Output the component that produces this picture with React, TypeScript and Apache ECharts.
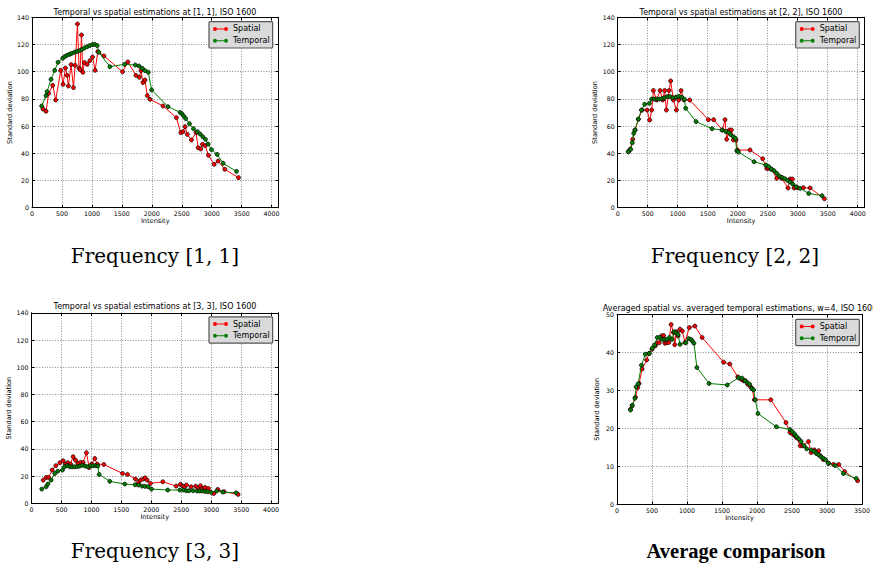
import React, { useEffect, useRef } from "react";
import * as echarts from "echarts";

// ---- data: [intensity, standard deviation] ----
const spatial11 = [[184,72.6],[234,70.9],[279,84.1],[346,90],[396,79.2],[480,101],[519,90.7],[558,102.7],[586,97.3],[608,89.5],[653,105.2],[692,88.3],[720,104.7],[759,135.1],[786,102.7],[803,101.5],[826,127],[848,99.6],[876,106.7],[921,105.4],[965,108.1],[1010,110.8],[1054,101],[1099,114.8],[1200,111.6],[1512,100],[1601,107.2],[1735,97.3],[1791,95.9],[1819,100.8],[1852,92],[1886,93.9],[1925,82.4],[1969,79.7],[2187,74.8],[2410,66.2],[2483,55.2],[2522,55.9],[2555,59.6],[2594,53.9],[2661,49.8],[2739,55.2],[2773,44.1],[2817,43.2],[2845,46.6],[2890,45.6],[2946,38.5],[3041,31.9],[3107,34.3],[3219,28.2],[3448,22.1]];
const temporal11 = [[162,74.8],[234,82.4],[251,85.3],[318,94.4],[379,101],[435,106.9],[513,109.9],[547,111.1],[586,112.1],[630,112.8],[664,113.5],[709,114.3],[753,115],[798,115.5],[837,116.5],[876,117.5],[921,118.4],[965,119.2],[1010,119.9],[1049,120.1],[1088,119.2],[1116,114.3],[1300,103.7],[1545,105.4],[1724,104.9],[1785,104.2],[1841,102.5],[1886,100.8],[1941,99.6],[1997,86.6],[2271,74.3],[2472,70.1],[2505,68.9],[2533,67.4],[2566,65.5],[2628,61.8],[2695,58.1],[2762,55.9],[2806,54.2],[2851,52.2],[2896,50.3],[2940,46.8],[2996,42.7],[3091,39.2],[3191,32.6],[3414,26.7]];

const spatial22 = [[178,41.2],[206,42.9],[250,50.3],[289,57.1],[344,65],[406,71.8],[489,71.8],[533,64.5],[567,71.8],[595,86.1],[650,79.2],[706,86.1],[750,79.2],[783,86.1],[811,71.8],[856,86.1],[883,93.2],[928,79.2],[978,71.8],[1017,79.2],[1056,86.1],[1106,79.2],[1200,79.2],[1511,64.7],[1600,64.7],[1745,57.1],[1789,64.7],[1817,50.3],[1861,57.1],[1895,57.1],[1928,49.8],[1972,49.8],[1995,42.4],[2206,42.4],[2417,36],[2483,28.9],[2517,28.9],[2567,28.2],[2650,21.6],[2733,21.6],[2839,14.5],[2872,21.1],[2911,21.1],[2939,14.5],[2995,14.7],[3095,14.7],[3206,14.5],[3445,6.6]];
const temporal22 = [[178,41.2],[217,42.9],[244,47.8],[267,54.7],[289,57.1],[344,65.2],[395,71.8],[450,76],[528,76.7],[567,79.9],[606,79.9],[650,79.9],[695,79.9],[739,80.2],[783,80.9],[828,81.7],[872,81.7],[922,80.9],[972,81.4],[1017,81.7],[1067,81.4],[1111,79.7],[1133,73.1],[1306,63.3],[1572,58.1],[1739,57.1],[1800,56.1],[1850,55.2],[1884,53.7],[1928,52.2],[1961,51],[1984,41.9],[2011,40.9],[2272,33.8],[2467,31.4],[2517,30.2],[2561,28.4],[2606,27.2],[2650,25.3],[2695,23.3],[2739,22.3],[2784,21.3],[2828,20.1],[2872,18.9],[2917,17.4],[2972,15.4],[3039,14.2],[3184,10.5],[3406,8.8]];

const spatial33 = [[195,17.1],[245,19.1],[284,19.1],[345,24.5],[406,27.7],[473,29.9],[528,31.3],[567,28.9],[606,29.9],[651,28.9],[695,34.3],[734,31.8],[773,29.4],[818,30.1],[862,30.1],[918,37.2],[962,26.4],[1007,28.9],[1057,33],[1096,28.9],[1207,28.6],[1519,22],[1602,21.3],[1736,17.9],[1786,15.2],[1819,17.1],[1864,17.9],[1897,18.8],[1930,17.1],[1986,14.7],[2192,15.9],[2414,12.7],[2486,14],[2525,12.7],[2553,12.2],[2586,13.5],[2664,12.2],[2742,12.7],[2776,11.3],[2820,13],[2859,11],[2898,11.7],[2954,11],[3043,7.3],[3109,10.3],[3215,8.6],[3449,6.6]];
const temporal33 = [[172,10.5],[245,12.2],[273,14.2],[328,17.1],[389,22],[439,23.7],[517,24.5],[551,26.9],[595,27.7],[640,26.9],[679,26.9],[718,26.9],[762,26.9],[807,27.4],[851,28.1],[896,27.4],[940,26.9],[985,27.7],[1029,27.7],[1074,27.7],[1107,27.4],[1129,21.3],[1307,16.2],[1558,14.2],[1730,13.7],[1786,13.5],[1847,12.7],[1897,12.5],[1947,12.2],[2003,10.5],[2275,9.8],[2476,9.8],[2537,9.8],[2586,9.3],[2631,9.3],[2698,9.3],[2765,9.1],[2809,9.1],[2854,9.1],[2898,8.8],[2943,8.6],[2998,8.1],[3093,9.1],[3193,8.3],[3416,7.8]];

const spatialAvg = [[193,25],[217,26],[264,28.2],[297,30.7],[316,31.8],[358,35.6],[424,38],[457,39.7],[500,40.8],[547,41.7],[570,42.5],[603,42.5],[636,44.3],[665,44.4],[684,42.4],[712,42.5],[740,42.6],[773,47.3],[806,45.2],[825,42],[849,45.4],[872,44.3],[900,46.1],[933,45.6],[971,42.6],[1033,46.5],[1113,46.9],[1216,43.9],[1523,37.4],[1612,36.9],[1726,33.5],[1773,32.9],[1806,32.5],[1834,32.5],[1867,31.6],[1905,31],[1929,30.5],[1962,27.5],[2197,27.5],[2414,21.5],[2471,18.9],[2504,18.5],[2537,18.1],[2565,17.5],[2617,15.4],[2650,15.4],[2735,16.5],[2773,13.6],[2820,14.3],[2853,13.4],[2881,14.1],[2904,12.8],[2947,11.8],[3022,10.8],[3093,10.5],[3169,10.5],[3253,8.6],[3437,6.2]];
const temporalAvg = [[193,24.8],[217,26],[255,27.9],[273,30.9],[302,31.7],[349,36.6],[405,39.5],[462,39.7],[504,41.1],[537,41.9],[575,43.9],[613,43.9],[646,43.4],[679,43.4],[712,43.4],[750,43.9],[787,43.4],[816,45.4],[844,45.2],[872,44.7],[900,42.1],[985,42.5],[1023,43.6],[1056,43.4],[1075,43],[1099,42.4],[1141,36],[1315,31.8],[1575,31.4],[1740,33.3],[1787,33.2],[1829,32.5],[1862,32],[1895,31.6],[1924,30.5],[1952,30.1],[1976,27.5],[2013,23.9],[2277,20.4],[2471,19.7],[2504,19.1],[2537,18.5],[2565,17.8],[2598,17.2],[2631,16.5],[2673,15.4],[2711,14.6],[2777,14.3],[2820,13.9],[2848,13.4],[2881,13],[2914,12.5],[2947,12.1],[2980,11.7],[3022,10.8],[3117,10.2],[3234,8.1],[3418,6.8]];

const panelTitles = [
  "Temporal vs spatial estimations at [1, 1], ISO 1600",
  "Temporal vs spatial estimations at [2, 2], ISO 1600",
  "Temporal vs spatial estimations at [3, 3], ISO 1600",
  "Averaged spatial vs. averaged temporal estimations, w=4, ISO 1600",
];
const captions = ["Frequency [1, 1]", "Frequency [2, 2]", "Frequency [3, 3]", "Average comparison"];
const seriesNames = ["Spatial", "Temporal"];
const xMaxes = [4115, 4115, 4115, 3500];
const yMaxes = [140, 140, 140, 50];
const yIntervals = [20, 20, 20, 10];
const xInterval = 500;

const panelData = [
  [spatial11, temporal11],
  [spatial22, temporal22],
  [spatial33, temporal33],
  [spatialAvg, temporalAvg],
];

// ---- layout / style ----
const FONT = '"DejaVu Sans", sans-serif';
const grids = [
  { left: 32, top: 17.3, width: 246.5, height: 190.4 },
  { left: 617.7, top: 17.3, width: 246.9, height: 190.4 },
  { left: 31.5, top: 312.8, width: 246.5, height: 190.6 },
  { left: 617, top: 314.3, width: 246, height: 190 },
];
const titlePos = [[155, 12.3], [741, 12.3], [155, 306.8], [740, 308.5]];
const captionPos = [[155, 256], [735, 256], [155, 551], [736, 551]];
const legendPos = [[209, 21.7], [795.7, 21.7], [209, 316.8], [795.7, 319.3]];
const lineColors = ["#ff0000", "#008000"];

const LEGEND_ICON =
  "path://M0,2a2,2 0 1,1 4,0a2,2 0 1,1 -4,0Z M11,2a2,2 0 1,1 4,0a2,2 0 1,1 -4,0Z M4,1.5L11,1.5L11,2.5L4,2.5Z";

const plain = (v: number) => String(v);

function buildOption() {
  const xAxis: any[] = [];
  const yAxis: any[] = [];
  const series: any[] = [];
  const legend: any[] = [];
  const graphic: any[] = [];

  const axisLine = { show: true, onZero: false, lineStyle: { color: "#000", width: 1 } };
  const axisTick = { show: true, inside: true, length: 3, lineStyle: { color: "#000", width: 1 } };
  const splitLine = { show: true, lineStyle: { color: "#8a8a8a", width: 1, type: [1, 1.6] } };
  const labelBase = { show: true, interval: 0, fontSize: 6.3, color: "#000", fontFamily: FONT, margin: 3, formatter: plain };

  for (let i = 0; i < 4; i++) {
    const xm = xMaxes[i];
    xAxis.push({
      type: "value", gridIndex: i, min: 0, max: xm, interval: xInterval, position: "bottom",
      axisLine, axisTick, splitLine,
      axisLabel: { ...labelBase, showMaxLabel: xm % xInterval === 0, showMinLabel: true },
      name: "Intensity", nameLocation: "middle", nameGap: 10,
      nameTextStyle: { fontSize: 6.6, color: "#000", fontFamily: FONT },
    });
    yAxis.push({
      type: "value", gridIndex: i, min: 0, max: yMaxes[i], interval: yIntervals[i], position: "left",
      axisLine, axisTick, splitLine,
      axisLabel: { ...labelBase },
      name: "Standard deviation", nameLocation: "middle", nameGap: 17,
      nameTextStyle: { fontSize: 6.6, color: "#000", fontFamily: FONT },
    });
  }
  for (let i = 0; i < 4; i++) {
    xAxis.push({
      type: "value", gridIndex: i, min: 0, max: xMaxes[i], interval: xInterval, position: "top",
      axisLine, axisTick, axisLabel: { show: false }, splitLine: { show: false },
    });
    yAxis.push({
      type: "value", gridIndex: i, min: 0, max: yMaxes[i], interval: yIntervals[i], position: "right",
      axisLine, axisTick, axisLabel: { show: false }, splitLine: { show: false },
    });
  }

  for (let i = 0; i < 4; i++) {
    for (let s = 0; s < 2; s++) {
      series.push({
        type: "line", name: seriesNames[s], xAxisIndex: i, yAxisIndex: i,
        data: panelData[i][s],
        symbol: "circle", symbolSize: 4, showSymbol: true, showAllSymbol: true,
        lineStyle: { color: lineColors[s], width: 1 },
        itemStyle: { color: lineColors[s], borderColor: "#000", borderWidth: 0.7 },
        emphasis: { disabled: true },
        z: 2 + s,
      });
    }
    legend.push({
      left: legendPos[i][0], top: legendPos[i][1], orient: "vertical",
      data: seriesNames.map((n) => ({ name: n, icon: LEGEND_ICON })),
      itemWidth: 15, itemHeight: 4, itemGap: 1.3, itemTextGap: 5,
      padding: [2, 3, 2, 4],
      backgroundColor: "#dadada", borderColor: "#555", borderWidth: 1.2, borderRadius: 1,
      itemStyle: { borderWidth: 0 },
      textStyle: { fontSize: 8, color: "#000", fontFamily: FONT, lineHeight: 10.5 },
      selectedMode: false,
    });
    graphic.push({
      type: "text", x: titlePos[i][0], y: titlePos[i][1],
      style: {
        text: panelTitles[i], fontSize: 8, fontFamily: FONT, fill: "#000",
        textAlign: "center", textVerticalAlign: "middle", align: "center", verticalAlign: "middle",
      },
    });
    graphic.push({
      type: "text", x: captionPos[i][0], y: captionPos[i][1],
      style: {
        text: captions[i],
        fontSize: i === 3 ? 20.5 : 20,
        fontWeight: i === 3 ? "bold" : "normal",
        fontFamily: i === 3 ? '"Liberation Serif", serif' : '"DejaVu Serif", serif',
        fill: "#000",
        textAlign: "center", textVerticalAlign: "middle", align: "center", verticalAlign: "middle",
      },
    });
  }

  return {
    animation: false,
    backgroundColor: "#ffffff",
    grid: grids.map((g) => ({ ...g, containLabel: false })),
    xAxis, yAxis, series, legend, graphic,
  };
}

export default function App() {
  const ref = useRef<HTMLDivElement>(null);
  useEffect(() => {
    if (!ref.current) return;
    const chart = echarts.init(ref.current, null, { renderer: "svg" });
    chart.setOption(buildOption() as any);
    return () => chart.dispose();
  }, []);
  return (
    <div
      ref={ref}
      style={{ position: "fixed", left: 0, top: 0, width: 873, height: 570, background: "#fff" }}
    />
  );
}
